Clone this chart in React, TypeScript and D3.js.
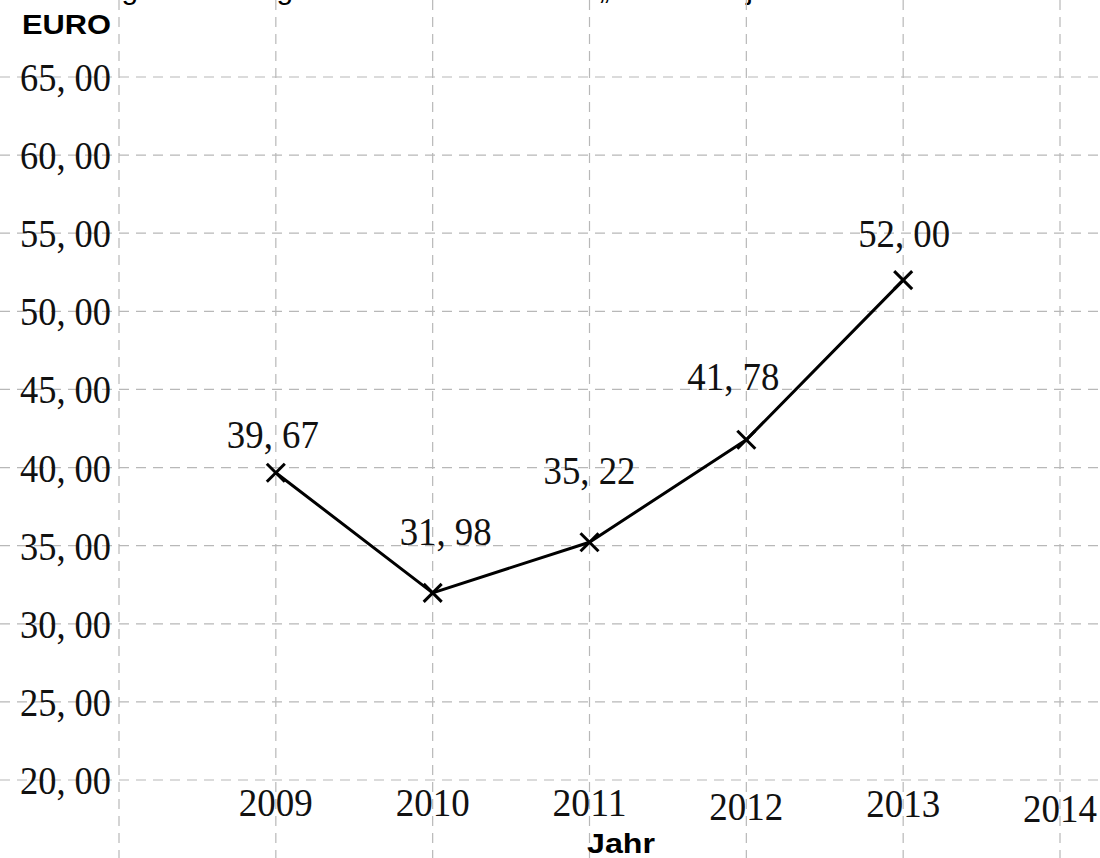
import React, { useEffect } from "react";
import * as d3 from "d3";

const years = [2009, 2010, 2011, 2012, 2013];
const values = [39.67, 31.98, 35.22, 41.78, 52.0];
const valueLabels = ["39, 67", "31, 98", "35, 22", "41, 78", "52, 00"];
const xTicks = [2009, 2010, 2011, 2012, 2013, 2014];
const yTicks = [20, 25, 30, 35, 40, 45, 50, 55, 60, 65];
const yTickLabels = ["20, 00", "25, 00", "30, 00", "35, 00", "40, 00", "45, 00", "50, 00", "55, 00", "60, 00", "65, 00"];
// label placement nudges (px) relative to each point
const labelDx = [-3, 13, 0, -13, 1];
const labelDy = [-25, -48, -58, -50, -33];
const yearBaselineDy = [0, 0, 0, 4, 1, 6];

const W = 1100;
const H = 858;
const serif = "'Liberation Serif', 'DejaVu Serif', serif";
const sans = "'Liberation Sans', Arial, sans-serif";

export default function App() {
  useEffect(() => {
    document.body.style.margin = "0";
  }, []);

  const x = d3.scaleLinear().domain([2008, 2014]).range([119, 1060]);
  const y = d3.scaleLinear().domain([20, 65]).range([780, 77]);

  const line = d3
    .line<number>()
    .x((_, i) => x(years[i]))
    .y((d) => y(d));

  const gridColor = "#b8b8b8";
  const dash = "10 7";
  const m = 9;

  return (
    <svg width={W} height={H} style={{ display: "block", background: "#fff" }}>
      {/* clipped title */}
      <text x={-22} y={-1} fontFamily={sans} fontSize={30} fill="#000">
        Entwicklung der Beitragshöhe im Tennisverein „Eintracht“ je Jahr
      </text>

      {/* vertical grid */}
      {[2008, ...xTicks].map((t) => (
        <line key={"v" + t} x1={x(t)} x2={x(t)} y1={0} y2={H} stroke={gridColor} strokeWidth={1.2} strokeDasharray={dash} />
      ))}
      {/* horizontal grid */}
      {yTicks.map((t) => (
        <line key={"h" + t} x1={0} x2={W} y1={y(t)} y2={y(t)} stroke={gridColor} strokeWidth={1.2} strokeDasharray={dash} />
      ))}

      {/* y tick labels */}
      {yTicks.map((t, i) => (
        <text key={"yl" + t} x={20} y={y(t) + 14} fontFamily={serif} fontSize={39} textLength={91} lengthAdjust="spacingAndGlyphs" fill="#111">
          {yTickLabels[i]}
        </text>
      ))}

      {/* x tick labels */}
      {xTicks.map((t, i) => (
        <text key={"xl" + t} x={x(t) - 37} y={816 + yearBaselineDy[i]} fontFamily={serif} fontSize={39} textLength={74} lengthAdjust="spacingAndGlyphs" fill="#111">
          {t}
        </text>
      ))}

      {/* axis titles */}
      <text x={22} y={34} fontFamily={sans} fontWeight="bold" fontSize={27} textLength={89} lengthAdjust="spacingAndGlyphs" fill="#000">
        EURO
      </text>
      <text x={587} y={853} fontFamily={sans} fontWeight="bold" fontSize={27} textLength={68} lengthAdjust="spacingAndGlyphs" fill="#000">
        Jahr
      </text>

      {/* data line */}
      <path d={line(values) || ""} fill="none" stroke="#000" strokeWidth={3} strokeLinejoin="round" />
      {values.map((v, i) => {
        const cx = x(years[i]);
        const cy = y(v);
        return (
          <g key={"m" + i} stroke="#000" strokeWidth={3}>
            <line x1={cx - m} y1={cy - m} x2={cx + m} y2={cy + m} />
            <line x1={cx - m} y1={cy + m} x2={cx + m} y2={cy - m} />
          </g>
        );
      })}

      {/* value labels */}
      {values.map((v, i) => (
        <text
          key={"vl" + i}
          x={x(years[i]) + labelDx[i] - 46}
          y={y(v) + labelDy[i]}
          fontFamily={serif}
          fontSize={39}
          textLength={92}
          lengthAdjust="spacingAndGlyphs"
          fill="#111"
        >
          {valueLabels[i]}
        </text>
      ))}
    </svg>
  );
}
